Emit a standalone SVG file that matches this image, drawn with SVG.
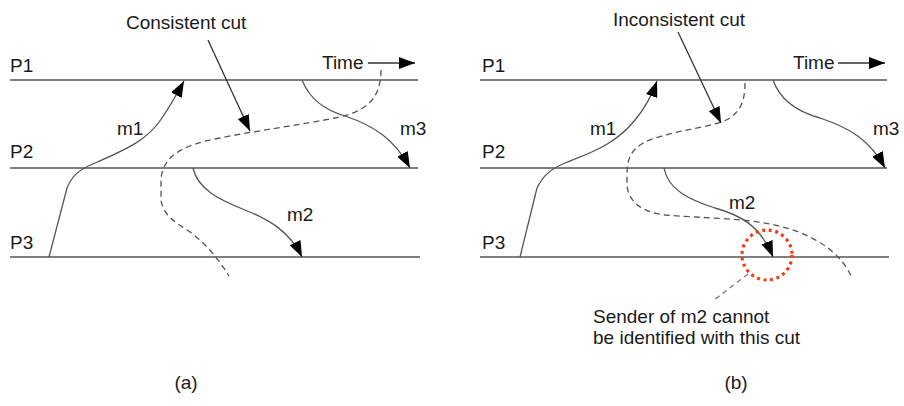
<svg xmlns="http://www.w3.org/2000/svg" width="904" height="406" viewBox="0 0 904 406">
<style>
  text { font-family: "Liberation Sans", Arial, sans-serif; font-size: 19px; fill: #1a1a1a; }
  .proc { stroke: #555; stroke-width: 1.6; fill: none; }
  .msg { stroke: #555; stroke-width: 1.3; fill: none; marker-end: url(#head); }
  .cut { stroke: #555; stroke-width: 1.3; fill: none; stroke-dasharray: 6 4; }
  .ptr { stroke: #333; stroke-width: 1.3; fill: none; marker-end: url(#head); }
  .leader { stroke: #777; stroke-width: 1.3; fill: none; stroke-dasharray: 5 4; }
  .ring { stroke: #f03c14; stroke-width: 3.2; fill: none; stroke-dasharray: 3 3.6; }
</style>
<defs>
  <marker id="head" markerUnits="userSpaceOnUse" viewBox="0 0 16 12" refX="16" refY="6" markerWidth="16" markerHeight="12" orient="auto">
    <path d="M0,0 L16,6 L0,12 z" fill="#000"/>
  </marker>
</defs>
<rect width="904" height="406" fill="#fff"/>

<g id="panel-a">
  <g id="a-processes">
    <g id="a-P1"><line class="proc" x1="10" y1="80" x2="418" y2="80"/><text x="10" y="72">P1</text></g>
    <g id="a-P2"><line class="proc" x1="10" y1="168" x2="418" y2="168"/><text x="10" y="158">P2</text></g>
    <g id="a-P3"><line class="proc" x1="10" y1="257" x2="420" y2="257"/><text x="10" y="249">P3</text></g>
  </g>
  <g id="a-time"><text x="322" y="69">Time</text><line class="ptr" x1="368" y1="63" x2="415" y2="63"/></g>
  <g id="a-cut-label"><text x="126" y="29">Consistent cut</text></g>
  <g id="a-connectors">
    <path id="a-m1" class="msg" d="M49,257 L67,188 C72,176 78,170 95,163 C125,150 148,140 162,118 C170,106 177,94 184,81"/>
    <path id="a-m3" class="msg" d="M302,80 C310,100 325,110 345,116 C375,126 395,140 410,168"/>
    <path id="a-m2" class="msg" d="M193,168 C198,190 220,200 245,210 C270,220 290,232 302,257"/>
    <path id="a-cut" class="cut" d="M381,70 C381,100 365,112 335,118 C300,125 260,130 220,138 C180,145 162,158 161,180 L161,200 C163,215 175,222 190,232 C205,243 218,258 229,276"/>
    <line id="a-cut-pointer" class="ptr" x1="208" y1="40" x2="250" y2="131"/>
  </g>
  <g id="a-msg-labels">
    <text x="117" y="135">m1</text>
    <text x="400" y="135">m3</text>
    <text x="287" y="221">m2</text>
  </g>
  <text x="186" y="389" text-anchor="middle">(a)</text>
</g>

<g id="panel-b">
  <g id="b-processes">
    <g id="b-P1"><line class="proc" x1="480" y1="80" x2="887" y2="80"/><text x="482" y="72">P1</text></g>
    <g id="b-P2"><line class="proc" x1="480" y1="168" x2="887" y2="168"/><text x="482" y="158">P2</text></g>
    <g id="b-P3"><line class="proc" x1="480" y1="257" x2="889" y2="257"/><text x="482" y="249">P3</text></g>
  </g>
  <g id="b-time"><text x="793" y="69">Time</text><line class="ptr" x1="838" y1="63" x2="885" y2="63"/></g>
  <g id="b-cut-label"><text x="613" y="26">Inconsistent cut</text></g>
  <g id="b-connectors">
    <path id="b-m1" class="msg" d="M520,257 L537,188 C542,178 548,170 565,163 C590,153 615,145 635,120 C645,108 652,95 657,81"/>
    <path id="b-m3" class="msg" d="M773,80 C780,100 798,112 820,118 C850,128 870,140 885,168"/>
    <path id="b-m2" class="msg" d="M664,168 C668,190 690,200 715,208 C740,215 760,225 773,257"/>
    <path id="b-cut" class="cut" d="M745,83 C745,105 738,118 715,124 C690,130 665,133 645,142 C630,150 627,160 627,175 L627,185 C628,200 640,212 665,215 C700,218 740,218 770,224 C810,232 840,250 852,278"/>
    <line id="b-cut-pointer" class="ptr" x1="678" y1="32" x2="721" y2="123"/>
    <line id="b-leader" class="leader" x1="748" y1="274" x2="714" y2="300"/>
  </g>
  <g id="b-msg-labels">
    <text x="590" y="135">m1</text>
    <text x="873" y="135">m3</text>
    <text x="729" y="209">m2</text>
  </g>
  <g id="b-highlight"><circle class="ring" cx="767" cy="255" r="25"/></g>
  <g id="b-note">
    <text x="593" y="323">Sender of m2 cannot</text>
    <text x="593" y="344">be identified with this cut</text>
  </g>
  <text x="736" y="389" text-anchor="middle">(b)</text>
</g>
</svg>
